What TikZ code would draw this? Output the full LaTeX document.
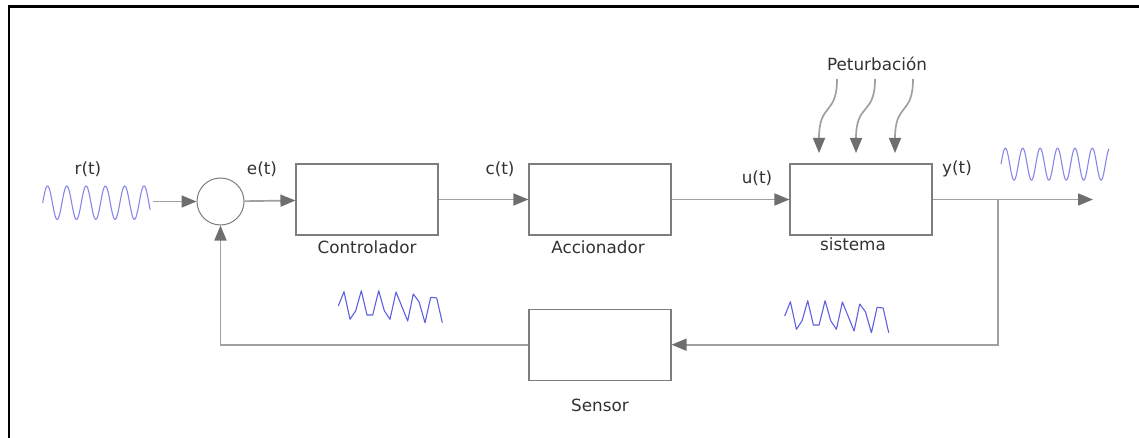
\documentclass[tikz,border=0pt]{standalone}
\usepackage{fontspec}
\setmainfont{DejaVu Sans}
\usetikzlibrary{arrows.meta,positioning}

\definecolor{linegray}{RGB}{160,160,160}
\definecolor{boxgray}{RGB}{125,125,125}
\definecolor{tipgray}{RGB}{110,110,110}
\definecolor{txtgray}{RGB}{50,50,50}
\definecolor{sinblue}{RGB}{135,135,235}
\definecolor{sawblue}{RGB}{95,95,225}

% sampled signal shape, relative to its first point
\newcommand{\sawsig}{(0,0) -- (5.7,-14.3) -- (11.7,13.3) -- (17.4,4.7) -- (23,-15.3) -- (28.7,9) -- (34.4,9) -- (40.4,-15.3) -- (46,4.7) -- (51.7,13.3) -- (57.7,-14) -- (69.4,15) -- (75,-12) -- (80.7,-4.3) -- (86.7,16.7) -- (92.4,-8.7) -- (98.4,-8) -- (104,16.7)}

\begin{document}
\begin{tikzpicture}[x=1pt, y=-1pt,
    blk/.style={draw=boxgray, line width=1.1pt, minimum width=142pt, minimum height=71pt, inner sep=0pt},
    lbl/.style={text=txtgray, font=\fontsize{16.8}{20}\selectfont, inner sep=0pt},
    flow/.style={draw=linegray, line width=1.7pt, -{Triangle[length=15pt,width=12pt,color=tipgray]}},
    sig/.style={line width=1.1pt, line join=round}]
    \useasboundingbox (0,0) rectangle (1139,438);

    % Frame
    \draw[black, line width=2.6pt] (9,438) -- (9,6.5) -- (1139,6.5);

    % Summing point and blocks
    \node[draw=boxgray, line width=1pt, circle, minimum size=47pt, inner sep=0pt] (sum) at (220.5,201.5) {};
    \node[blk] (ctrl) at (367,199.5) {};
    \node[blk] (acc) at (600,199.5) {};
    \node[blk] (sys) at (861,199.5) {};
    \node[blk] (sens) at (600,344.7) {};

    % Block names
    \node[lbl] (ctrltxt) at (367,247) {Controlador};
    \node[lbl] (acctxt) at (598,247) {Accionador};
    \node[lbl] (systxt) at (853,244) {sistema};
    \node[lbl] (senstxt) at (600,405) {Sensor};

    % Signal names
    \node[lbl] (rtxt) at (88,169) {r(t)};
    \node[lbl] (etxt) at (262,169) {e(t)};
    \node[lbl] (ctxt) at (500,169) {c(t)};
    \node[lbl] (utxt) at (757,178) {u(t)};
    \node[lbl] (ytxt) at (957,169) {y(t)};
    \node[lbl] (pert) at (877,64) {Peturbación};

    % Free ends
    \coordinate (rin) at (153,201.5);
    \coordinate (split) at (998,199.5);
    \coordinate (yout) at (1093,199.5);

    % Forward path
    \draw[flow] (rin) -- (sum);
    \draw[flow] (sum) -- (ctrl);
    \draw[flow] (ctrl) -- (acc);
    \draw[flow] (acc) -- (sys);
    \draw[flow] (sys.east) -- (yout);

    % Feedback path
    \draw[flow] (split) |- (sens);
    \draw[flow] (sens) -| (sum);

    % Disturbance arrows
    \foreach \i/\xa/\xb in {1/837/819, 2/875/856, 3/913/895}{
        \coordinate (pin\i) at (\xa,79);
        \coordinate (pout\i) at (\xb,153);
        \draw[flow] (pin\i) .. controls (\xa,116) and (\xb,102) .. (pout\i);
    }

    % Signals
    \draw[sig, sinblue, domain=0:107.5, samples=220] plot (\x+42.7, {202.7-16.7*sin(\x/19.3*360)});
    \draw[sig, sinblue, domain=0:108, samples=220] plot (\x+1001, {164.2-16*sin(\x/17.4*360)});
    \draw[sig, sawblue, shift={(338.3,306)}] \sawsig;
    \draw[sig, sawblue, shift={(784.7,316)}] \sawsig;
\end{tikzpicture}
\end{document}
